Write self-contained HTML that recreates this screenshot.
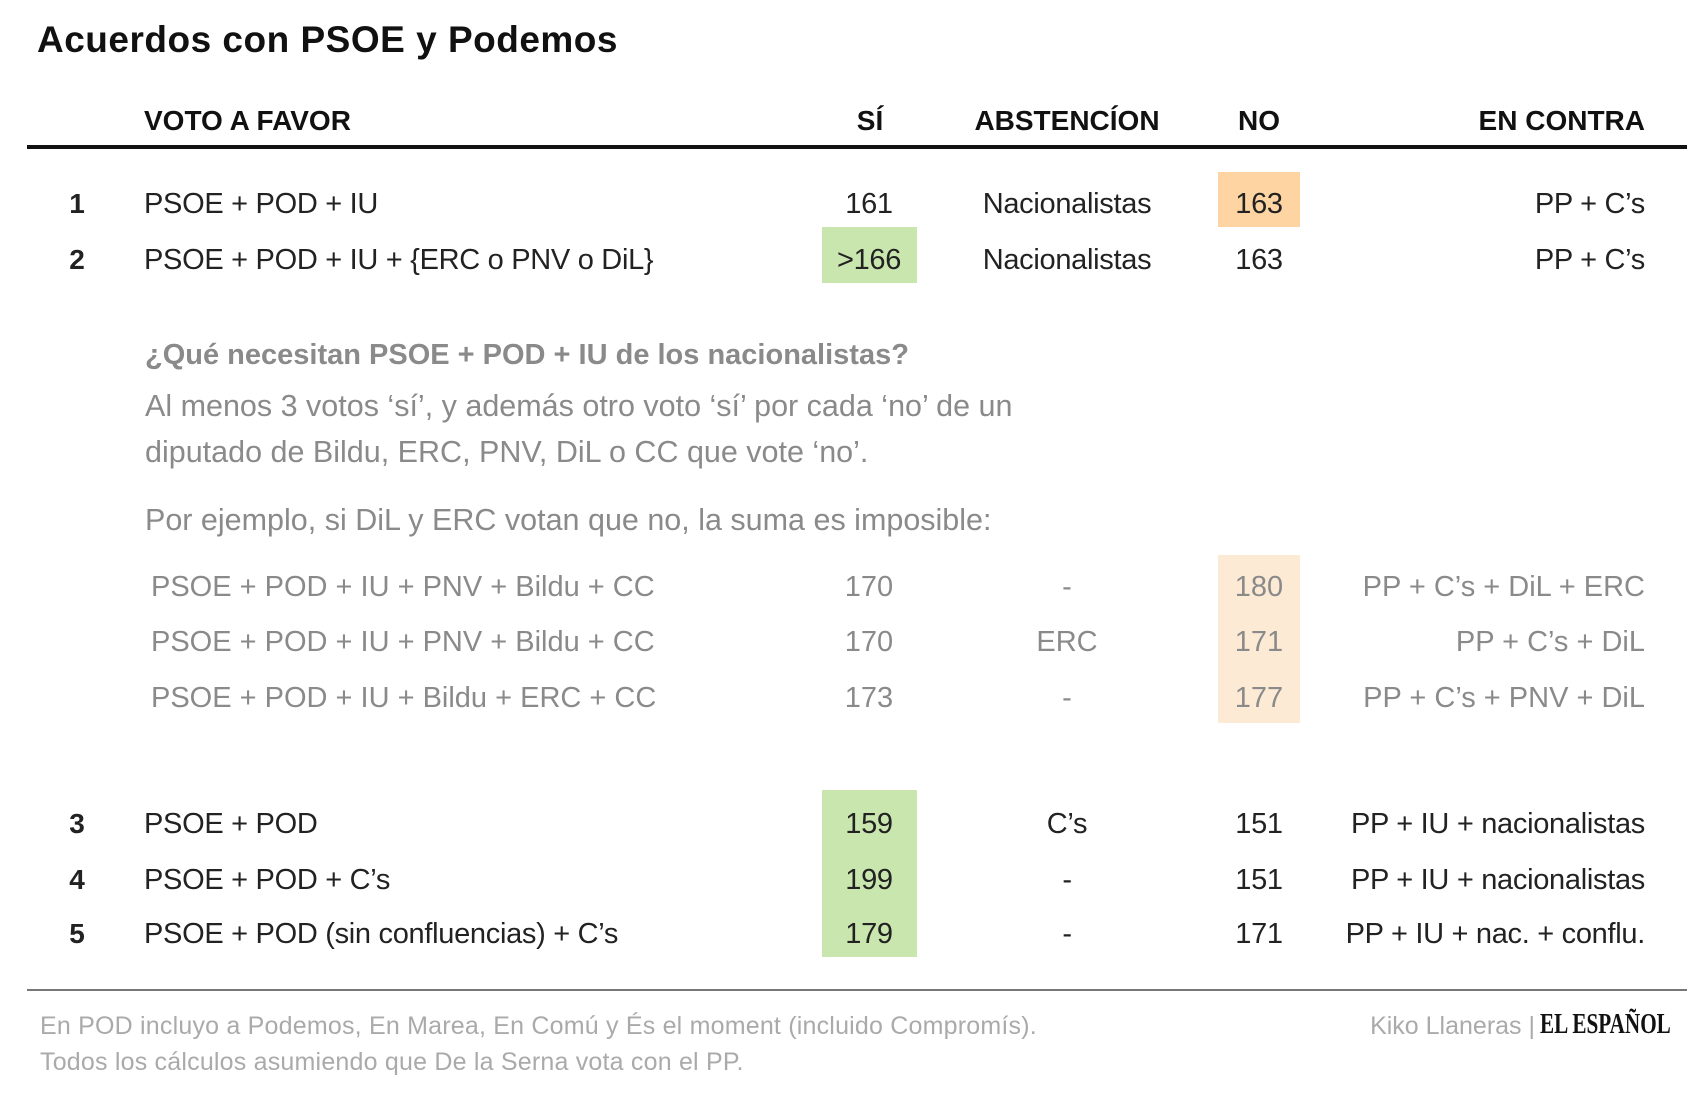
<!DOCTYPE html>
<html><head><meta charset="utf-8"><style>
body{margin:0;width:1706px;height:1093px;background:#fff;position:relative;overflow:hidden;font-family:"Liberation Sans",sans-serif;}
.t{position:absolute;white-space:nowrap;line-height:40px;height:40px;}
.c{transform:translateX(-50%);}
.r{transform:translateX(-100%);}
.h{font-weight:bold;font-size:28px;color:#111;}
.m{font-size:29px;color:#222;letter-spacing:-0.3px;}
.g{font-size:29px;color:#8a8a8a;letter-spacing:0px;}
.p{font-size:30.5px;color:#8a8a8a;letter-spacing:0px;}
.n{font-weight:bold;font-size:28px;color:#222;}
.box{position:absolute;}
</style></head><body>
<div class="t" style="left:37px;top:20px;font-size:37px;font-weight:bold;color:#111;letter-spacing:0.5px">Acuerdos con PSOE y Podemos</div>

<div class="t h" style="left:144px;top:101px">VOTO A FAVOR</div>
<div class="t h c" style="left:870px;top:101px">SÍ</div>
<div class="t h c" style="left:1067px;top:101px">ABSTENCÍON</div>
<div class="t h c" style="left:1259px;top:101px">NO</div>
<div class="t h r" style="left:1645px;top:101px">EN CONTRA</div>
<div class="box" style="left:27px;top:145px;width:1660px;height:4px;background:#111"></div>

<div class="box" style="left:1218px;top:172px;width:82px;height:55px;background:#fdd4a2"></div>
<div class="box" style="left:822px;top:227px;width:95px;height:56px;background:#c8e6ae"></div>
<div class="box" style="left:1218px;top:555px;width:82px;height:168px;background:#fdead5"></div>
<div class="box" style="left:822px;top:790px;width:95px;height:167px;background:#c8e6ae"></div>

<div class="t n c" style="left:77px;top:184px">1</div>
<div class="t m" style="left:144px;top:184px">PSOE + POD + IU</div>
<div class="t m c" style="left:869px;top:184px">161</div>
<div class="t m c" style="left:1067px;top:184px">Nacionalistas</div>
<div class="t m c" style="left:1259px;top:184px">163</div>
<div class="t m r" style="left:1645px;top:184px">PP + C’s</div>

<div class="t n c" style="left:77px;top:240px">2</div>
<div class="t m" style="left:144px;top:240px">PSOE + POD + IU + {ERC o PNV o DiL}</div>
<div class="t m c" style="left:869px;top:240px">&gt;166</div>
<div class="t m c" style="left:1067px;top:240px">Nacionalistas</div>
<div class="t m c" style="left:1259px;top:240px">163</div>
<div class="t m r" style="left:1645px;top:240px">PP + C’s</div>

<div class="t" style="left:145px;top:335px;font-weight:bold;font-size:29px;color:#8a8a8a;letter-spacing:0px">¿Qué necesitan PSOE + POD + IU de los nacionalistas?</div>
<div class="t p" style="left:145px;top:386px">Al menos 3 votos ‘sí’, y además otro voto ‘sí’ por cada ‘no’ de un</div>
<div class="t p" style="left:145px;top:432px">diputado de Bildu, ERC, PNV, DiL o CC que vote ‘no’.</div>
<div class="t p" style="left:145px;top:500px">Por ejemplo, si DiL y ERC votan que no, la suma es imposible:</div>

<div class="t g" style="left:151px;top:567px">PSOE + POD + IU + PNV + Bildu + CC</div>
<div class="t g c" style="left:869px;top:567px">170</div>
<div class="t g c" style="left:1067px;top:567px">-</div>
<div class="t g c" style="left:1259px;top:567px">180</div>
<div class="t g r" style="left:1645px;top:567px">PP + C’s + DiL + ERC</div>

<div class="t g" style="left:151px;top:622px">PSOE + POD + IU + PNV + Bildu + CC</div>
<div class="t g c" style="left:869px;top:622px">170</div>
<div class="t g c" style="left:1067px;top:622px">ERC</div>
<div class="t g c" style="left:1259px;top:622px">171</div>
<div class="t g r" style="left:1645px;top:622px">PP + C’s + DiL</div>

<div class="t g" style="left:151px;top:678px">PSOE + POD + IU + Bildu + ERC + CC</div>
<div class="t g c" style="left:869px;top:678px">173</div>
<div class="t g c" style="left:1067px;top:678px">-</div>
<div class="t g c" style="left:1259px;top:678px">177</div>
<div class="t g r" style="left:1645px;top:678px">PP + C’s + PNV + DiL</div>

<div class="t n c" style="left:77px;top:804px">3</div>
<div class="t m" style="left:144px;top:804px">PSOE + POD</div>
<div class="t m c" style="left:869px;top:804px">159</div>
<div class="t m c" style="left:1067px;top:804px">C’s</div>
<div class="t m c" style="left:1259px;top:804px">151</div>
<div class="t m r" style="left:1645px;top:804px">PP + IU + nacionalistas</div>

<div class="t n c" style="left:77px;top:860px">4</div>
<div class="t m" style="left:144px;top:860px">PSOE + POD + C’s</div>
<div class="t m c" style="left:869px;top:860px">199</div>
<div class="t m c" style="left:1067px;top:860px">-</div>
<div class="t m c" style="left:1259px;top:860px">151</div>
<div class="t m r" style="left:1645px;top:860px">PP + IU + nacionalistas</div>

<div class="t n c" style="left:77px;top:914px">5</div>
<div class="t m" style="left:144px;top:914px">PSOE + POD (sin confluencias) + C’s</div>
<div class="t m c" style="left:869px;top:914px">179</div>
<div class="t m c" style="left:1067px;top:914px">-</div>
<div class="t m c" style="left:1259px;top:914px">171</div>
<div class="t m r" style="left:1645px;top:914px">PP + IU + nac. + conflu.</div>

<div class="box" style="left:27px;top:989px;width:1660px;height:2px;background:#777"></div>
<div class="t" style="left:40px;top:1006px;font-size:25px;color:#aaa;letter-spacing:0.2px">En POD incluyo a Podemos, En Marea, En Comú y És el moment (incluido Compromís).</div>
<div class="t" style="left:40px;top:1042px;font-size:25px;color:#aaa;letter-spacing:0.2px">Todos los cálculos asumiendo que De la Serna vota con el PP.</div>
<div class="t r" style="left:1535px;top:1006px;font-size:25px;color:#aaa">Kiko Llaneras |</div>
<div class="t" style="left:1540px;top:1004px;font-size:29px;font-family:'Liberation Serif',serif;font-weight:bold;color:#111;transform:scaleX(0.73);transform-origin:left">EL ESPAÑOL</div>
</body></html>
